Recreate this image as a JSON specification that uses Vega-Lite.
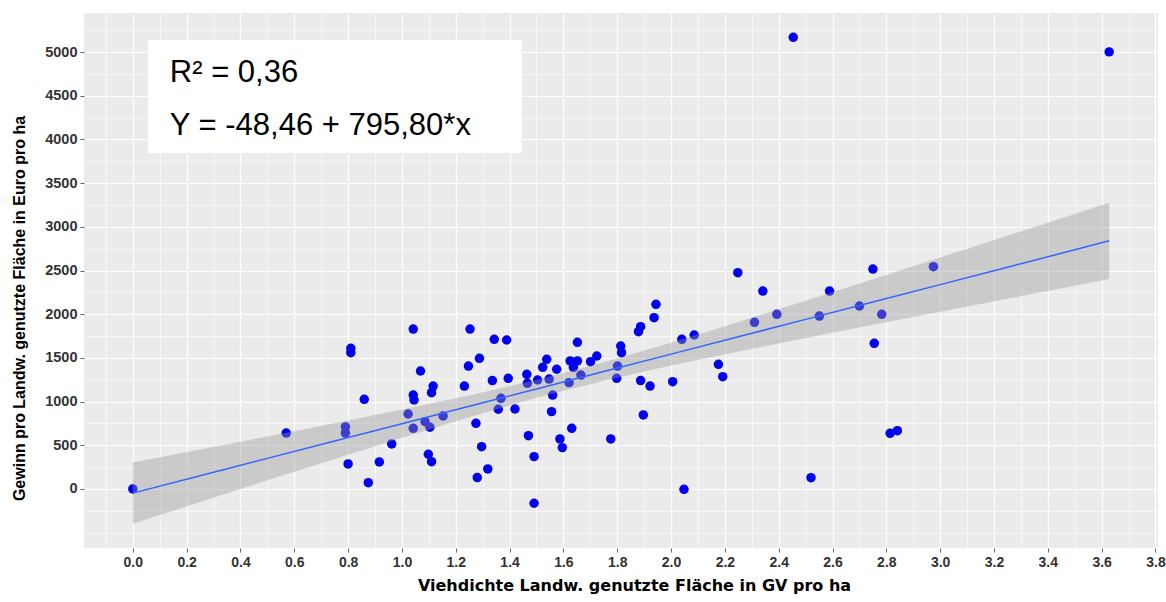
{
  "$schema": "https://vega.github.io/schema/vega-lite/v6.json",
  "width": 1074,
  "height": 535,
  "autosize": {"type": "none"},
  "padding": {"left": 84, "top": 13, "right": 8, "bottom": 54},
  "background": "white",
  "config": {
    "view": {"fill": "#EBEBEB", "stroke": null},
    "axis": {"domain": false, "labelFont": "Liberation Sans", "titleFont": "Liberation Sans", "labelFlush": false, "labelOverlap": false, "labelBound": false}
  },
  "datasets": {
    "points": [
      {"x": 0.0, "y": 0}, {"x": 0.57, "y": 640}, {"x": 0.79, "y": 710}, {"x": 0.79, "y": 640},
      {"x": 0.81, "y": 1610}, {"x": 0.81, "y": 1560}, {"x": 0.80, "y": 286}, {"x": 0.86, "y": 1026},
      {"x": 0.875, "y": 72}, {"x": 0.916, "y": 309}, {"x": 0.962, "y": 515}, {"x": 1.042, "y": 1830},
      {"x": 1.023, "y": 858}, {"x": 1.042, "y": 694}, {"x": 1.069, "y": 1350}, {"x": 1.042, "y": 1075},
      {"x": 1.045, "y": 1018}, {"x": 1.116, "y": 1178}, {"x": 1.11, "y": 1102}, {"x": 1.086, "y": 770},
      {"x": 1.104, "y": 706}, {"x": 1.098, "y": 397}, {"x": 1.11, "y": 312}, {"x": 1.153, "y": 835},
      {"x": 1.253, "y": 1830}, {"x": 1.247, "y": 1407}, {"x": 1.288, "y": 1495}, {"x": 1.232, "y": 1178},
      {"x": 1.343, "y": 1713}, {"x": 1.336, "y": 1240}, {"x": 1.275, "y": 751}, {"x": 1.296, "y": 484},
      {"x": 1.319, "y": 229}, {"x": 1.28, "y": 130}, {"x": 1.389, "y": 1705}, {"x": 1.395, "y": 1266},
      {"x": 1.368, "y": 1037}, {"x": 1.358, "y": 912}, {"x": 1.42, "y": 915}, {"x": 1.464, "y": 1312},
      {"x": 1.466, "y": 1209}, {"x": 1.504, "y": 1247}, {"x": 1.547, "y": 1258}, {"x": 1.523, "y": 1392},
      {"x": 1.538, "y": 1484}, {"x": 1.575, "y": 1370}, {"x": 1.56, "y": 1075}, {"x": 1.556, "y": 885},
      {"x": 1.47, "y": 610}, {"x": 1.491, "y": 370}, {"x": 1.491, "y": -164}, {"x": 1.587, "y": 572},
      {"x": 1.596, "y": 473}, {"x": 1.631, "y": 694}, {"x": 1.621, "y": 1217}, {"x": 1.625, "y": 1465},
      {"x": 1.652, "y": 1465}, {"x": 1.637, "y": 1392}, {"x": 1.652, "y": 1678}, {"x": 1.665, "y": 1304},
      {"x": 1.701, "y": 1457}, {"x": 1.724, "y": 1522}, {"x": 1.776, "y": 572}, {"x": 1.798, "y": 1266},
      {"x": 1.801, "y": 1407}, {"x": 1.813, "y": 1636}, {"x": 1.816, "y": 1560}, {"x": 1.879, "y": 1800},
      {"x": 1.887, "y": 1857}, {"x": 1.937, "y": 1960}, {"x": 1.944, "y": 2113}, {"x": 1.887, "y": 1240},
      {"x": 1.922, "y": 1178}, {"x": 1.897, "y": 847}, {"x": 2.006, "y": 1228}, {"x": 2.04, "y": 1713},
      {"x": 2.086, "y": 1762}, {"x": 2.048, "y": -4}, {"x": 2.176, "y": 1427}, {"x": 2.192, "y": 1285},
      {"x": 2.248, "y": 2475}, {"x": 2.341, "y": 2265}, {"x": 2.31, "y": 1907}, {"x": 2.393, "y": 1999},
      {"x": 2.589, "y": 2265}, {"x": 2.551, "y": 1979}, {"x": 2.75, "y": 2517}, {"x": 2.70, "y": 2094},
      {"x": 2.783, "y": 1999}, {"x": 2.755, "y": 1667}, {"x": 2.975, "y": 2544}, {"x": 2.814, "y": 637},
      {"x": 2.841, "y": 667}, {"x": 2.52, "y": 129}, {"x": 2.454, "y": 5170}, {"x": 3.628, "y": 5003}
    ],
    "band": [
      {"x": 0.0, "fit": -48, "lo": -398, "hi": 302},
      {"x": 0.25, "fit": 151, "lo": -149, "hi": 451},
      {"x": 0.5, "fit": 350, "lo": 99, "hi": 601},
      {"x": 0.75, "fit": 548, "lo": 344, "hi": 752},
      {"x": 1.0, "fit": 747, "lo": 586, "hi": 908},
      {"x": 1.25, "fit": 946, "lo": 822, "hi": 1070},
      {"x": 1.5, "fit": 1145, "lo": 1043, "hi": 1247},
      {"x": 1.75, "fit": 1344, "lo": 1239, "hi": 1449},
      {"x": 2.0, "fit": 1543, "lo": 1413, "hi": 1673},
      {"x": 2.25, "fit": 1742, "lo": 1573, "hi": 1911},
      {"x": 2.5, "fit": 1941, "lo": 1727, "hi": 2155},
      {"x": 2.75, "fit": 2140, "lo": 1879, "hi": 2401},
      {"x": 3.0, "fit": 2339, "lo": 2029, "hi": 2649},
      {"x": 3.25, "fit": 2538, "lo": 2178, "hi": 2898},
      {"x": 3.5, "fit": 2737, "lo": 2326, "hi": 3148},
      {"x": 3.628, "fit": 2840, "lo": 2403, "hi": 3277}
    ],
    "box": [{"x": 0.056, "x2": 1.446, "y": 5140, "y2": 3846}],
    "labels": [
      {"x": 0.1375, "y": 4662, "text": "R² = 0,36"},
      {"x": 0.1375, "y": 4052, "text": "Y = -48,46 + 795,80*x"}
    ]
  },
  "resolve": {"axis": {"x": "independent", "y": "independent"}},
  "layer": [
    {
      "data": {"name": "points"},
      "mark": {"type": "circle", "color": "#0000EE", "opacity": 1, "size": 90},
      "encoding": {
        "x": {"field": "x", "type": "quantitative",
          "scale": {"domain": [-0.1814, 3.8094], "nice": false, "zero": false},
          "axis": {"orient": "bottom", "values": [-0.1, 0.1, 0.3, 0.5, 0.7, 0.9, 1.1, 1.3, 1.5, 1.7, 1.9, 2.1, 2.3, 2.5, 2.7, 2.9, 3.1, 3.3, 3.5, 3.7],
            "grid": true, "gridColor": "#FFFFFF", "gridWidth": 0.6, "labels": false, "ticks": false, "title": null}},
        "y": {"field": "y", "type": "quantitative",
          "scale": {"domain": [-676, 5448], "nice": false, "zero": false},
          "axis": {"orient": "left", "values": [-500, -250, 250, 750, 1250, 1750, 2250, 2750, 3250, 3750, 4250, 4750, 5250],
            "grid": true, "gridColor": "#FFFFFF", "gridWidth": 0.6, "labels": false, "ticks": false, "title": null}}
      }
    },
    {
      "data": {"name": "band"},
      "mark": {"type": "area", "color": "#999999", "opacity": 0.4},
      "encoding": {
        "x": {"field": "x", "type": "quantitative",
          "scale": {"domain": [-0.1814, 3.8094], "nice": false, "zero": false},
          "axis": {"orient": "bottom", "values": [0, 0.2, 0.4, 0.6, 0.8, 1.0, 1.2, 1.4, 1.6, 1.8, 2.0, 2.2, 2.4, 2.6, 2.8, 3.0, 3.2, 3.4, 3.6, 3.8],
            "format": ".1f", "grid": true, "gridColor": "#FFFFFF", "gridWidth": 1.2,
            "labelFontSize": 14, "labelFontWeight": "bold", "labelColor": "#333333", "labelPadding": 3,
            "ticks": true, "tickSize": 4, "tickColor": "#666666", "tickWidth": 1,
            "title": "Viehdichte Landw. genutzte Fläche in GV pro ha", "titleFont": "DejaVu Sans", "titleFontSize": 16, "titleFontWeight": "bold", "titleColor": "#000000", "titlePadding": 8, "titleX": 550}},
        "y": {"field": "lo", "type": "quantitative",
          "scale": {"domain": [-676, 5448], "nice": false, "zero": false},
          "axis": {"orient": "left", "values": [0, 500, 1000, 1500, 2000, 2500, 3000, 3500, 4000, 4500, 5000],
            "format": "d", "grid": true, "gridColor": "#FFFFFF", "gridWidth": 1.2,
            "labelFontSize": 14.5, "labelFontWeight": "bold", "labelColor": "#333333", "labelPadding": 3,
            "ticks": true, "tickSize": 4, "tickColor": "#666666", "tickWidth": 1,
            "title": "Gewinn pro Landw. genutzte Fläche in Euro pro ha", "titleFontSize": 16, "titleFontWeight": "bold", "titleColor": "#000000", "titlePadding": 17, "titleY": 295}},
        "y2": {"field": "hi"}
      }
    },
    {
      "data": {"name": "band"},
      "mark": {"type": "line", "color": "#3366FF", "strokeWidth": 1.5},
      "encoding": {
        "x": {"field": "x", "type": "quantitative", "axis": null},
        "y": {"field": "fit", "type": "quantitative", "axis": null}
      }
    },
    {
      "data": {"name": "box"},
      "mark": {"type": "rect", "color": "#FFFFFF", "opacity": 1},
      "encoding": {
        "x": {"field": "x", "type": "quantitative", "axis": null},
        "x2": {"field": "x2"},
        "y": {"field": "y", "type": "quantitative", "axis": null},
        "y2": {"field": "y2"}
      }
    },
    {
      "data": {"name": "labels"},
      "mark": {"type": "text", "font": "Liberation Sans", "fontSize": 31, "color": "#000000", "align": "left", "baseline": "alphabetic"},
      "encoding": {
        "x": {"field": "x", "type": "quantitative", "axis": null},
        "y": {"field": "y", "type": "quantitative", "axis": null},
        "text": {"field": "text"}
      }
    }
  ]
}
